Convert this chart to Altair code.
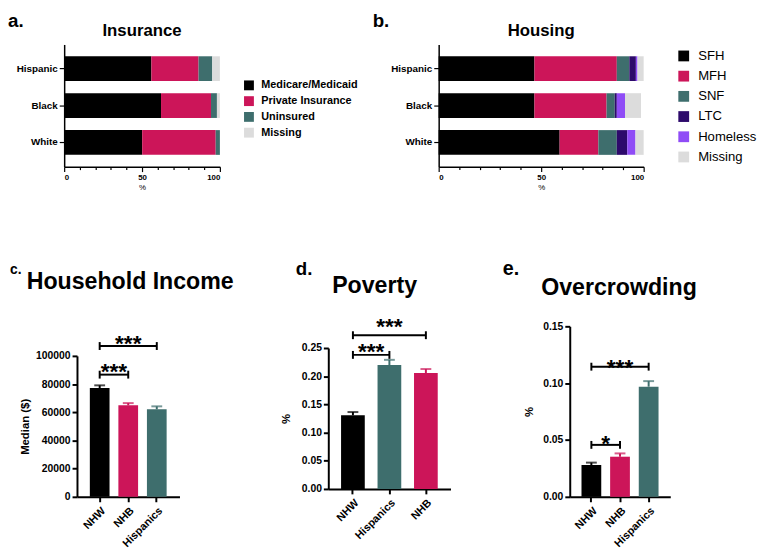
import altair as alt
import pandas as pd

FONT = "Liberation Sans"
BLACK = "#000000"
CRIMSON = "#cc1559"
TEAL = "#3e6e6d"
LTC_C = "#2d0a6b"
HOMELESS_C = "#8f4cf6"
MISSING_C = "#dcdcdc"

# ---------------- data ----------------
race_groups = ["Hispanic", "Black", "White"]

ins_cats = ["Medicare/Medicaid", "Private Insurance", "Uninsured", "Missing"]
ins_hispanic = [56.0, 30.3, 8.8, 4.9]
ins_black = [62.2, 32.1, 3.8, 1.9]
ins_white = [50.1, 47.2, 2.7, 0.0]

house_cats = ["SFH", "MFH", "SNF", "LTC", "Homeless", "Missing"]
house_hispanic = [46.7, 40.2, 6.1, 3.2, 0.8, 3.0]
house_black = [46.7, 35.2, 4.0, 1.0, 4.0, 7.8]
house_white = [59.0, 18.9, 9.0, 5.1, 4.0, 4.0]

income_groups = ["NHW", "NHB", "Hispanics"]
income_median = [77200, 64900, 62100]
income_err = [79100, 66500, 64200]
income_brackets = [("NHW", "NHB", 86700, "***", 92800), ("NHW", "Hispanics", 107000, "***", 112600)]

poverty_groups = ["NHW", "Hispanics", "NHB"]
poverty_pct = [0.1306, 0.2197, 0.2057]
poverty_err = [0.1364, 0.2290, 0.2127]
poverty_brackets = [("NHW", "Hispanics", 0.2378, "***", 0.254), ("NHW", "NHB", 0.2727, "***", 0.299)]

crowd_groups = ["NHW", "NHB", "Hispanics"]
crowd_pct = [0.0280, 0.0353, 0.0969]
crowd_err = [0.0301, 0.0382, 0.1018]
crowd_brackets = [("NHW", "NHB", 0.0457, "*", 0.052), ("NHW", "Hispanics", 0.1145, "***", 0.1185)]

group_colors = {"NHW": BLACK, "NHB": CRIMSON, "Hispanics": TEAL}


def text_layer(txt, x, y, size, weight="bold", align="center"):
    return alt.Chart(pd.DataFrame({"t": [txt]})).mark_text(
        font=FONT, fontSize=size, fontWeight=weight, align=align,
        baseline="alphabetic", color="black"
    ).encode(text="t:N", x=alt.value(x), y=alt.value(y))


def stacked_panel(rows, cats, colors, width, title, letter, letter_x,
                  legend_x, legend_y, leg_font, leg_weight, leg_sym, leg_rowpad, leg_offset):
    recs = []
    for g, vals in zip(race_groups, rows):
        for i, (c, v) in enumerate(zip(cats, vals)):
            recs.append({"group": g, "cat": c, "idx": i, "value": v})
    df = pd.DataFrame(recs)
    bars = alt.Chart(df).mark_bar().encode(
        x=alt.X("value:Q", stack="zero",
                scale=alt.Scale(domain=[0, 100], nice=False),
                axis=alt.Axis(values=list(range(0, 101, 10)),
                              labelExpr="datum.value % 50 === 0 ? datum.label : ''",
                              tickSize={"condition": {"test": "datum.value % 50 === 0", "value": 5}, "value": 3},
                              title="%", titleFont=FONT, titleFontSize=8, titleFontWeight="normal",
                              titlePadding=2, labelFont=FONT, labelFontSize=8, labelFontWeight="bold",
                              labelPadding=2, labelOverlap=False, grid=False, domainColor="black",
                              domainWidth=1.5, tickColor="black", tickWidth=1.2, labelColor="black",
                              titleColor="black")),
        y=alt.Y("group:N", sort=race_groups,
                scale=alt.Scale(domain=race_groups, paddingInner=0.33, paddingOuter=0.32),
                axis=alt.Axis(title=None, labelFont=FONT, labelFontSize=10, labelFontWeight="bold",
                              labelPadding=2, tickSize=5, tickWidth=1.2, tickColor="black",
                              domainColor="black", domainWidth=1.5, labelColor="black", grid=False)),
        color=alt.Color("cat:N", scale=alt.Scale(domain=cats, range=colors),
                        legend=alt.Legend(title=None, orient="none", legendX=legend_x, legendY=legend_y,
                                          symbolType="square", symbolSize=leg_sym, symbolStrokeWidth=0,
                                          labelFont=FONT, labelFontSize=leg_font, labelFontWeight=leg_weight,
                                          labelColor="black", rowPadding=leg_rowpad, labelOffset=leg_offset,
                                          padding=0)),
        order=alt.Order("idx:Q"),
    )
    return alt.layer(
        bars,
        text_layer(title, width / 2, -9, 17),
        text_layer(letter, letter_x, -18, 19, align="left"),
    ).properties(width=width, height=124)


def bar_panel(groups, vals, errs, brackets, width, height, yrange, ydomain, yvalues, yfmt,
              ytitle, ytitle_pad, pin, pout, title, title_x, title_y, letter, letter_x, letter_y, letter_size):
    colors = [group_colors[g] for g in groups]
    df = pd.DataFrame({"group": groups, "value": vals, "err": errs})
    xscale = alt.Scale(domain=groups, paddingInner=pin, paddingOuter=pout)
    xaxis = alt.Axis(title=None, labelAngle=-45, labelFont=FONT, labelFontSize=11,
                     labelFontWeight="bold", labelColor="black", tickSize=5, tickWidth=2,
                     tickColor="black", domainColor="black", domainWidth=2, labelPadding=3,
                     labelOverlap=False, grid=False)
    yscale = alt.Scale(domain=ydomain, range=yrange, nice=False, zero=True)
    yaxis = alt.Axis(values=yvalues, format=yfmt, title=ytitle, titleFont=FONT, titleFontSize=11.5,
                     titleFontWeight="bold", titleColor="black", titlePadding=ytitle_pad,
                     labelFont=FONT, labelFontSize=10.5, labelFontWeight="bold", labelColor="black",
                     labelOverlap=False, labelSeparation=0, labelBound=False, tickSize=5, tickWidth=2,
                     tickColor="black", domainColor="black", domainWidth=2, labelPadding=2, grid=False)
    cscale = alt.Scale(domain=groups, range=colors)

    def X(field):
        return alt.X(field, type="nominal", scale=xscale, axis=xaxis)

    def Y(field):
        return alt.Y(field, type="quantitative", scale=yscale, axis=yaxis)

    base = alt.Chart(df)
    bars = base.mark_bar().encode(
        x=X("group"), y=Y("value"),
        color=alt.Color("group:N", scale=cscale, legend=None))
    err_line = base.mark_rule(strokeWidth=2).encode(
        x=X("group"), y=Y("value"), y2="err:Q",
        color=alt.Color("group:N", scale=cscale, legend=None))
    err_cap = base.mark_tick(thickness=2, size=11).encode(
        x=X("group"), y=Y("err"),
        color=alt.Color("group:N", scale=cscale, legend=None))
    bdf = pd.DataFrame([{"g1": b[0], "g2": b[1], "y": b[2]} for b in brackets])
    hline = alt.Chart(bdf).mark_rule(strokeWidth=2, color="black").encode(
        x=X("g1"), x2="g2:N", y=Y("y"))
    cdf = pd.DataFrame([{"g": g, "y": b[2]} for b in brackets for g in (b[0], b[1])])
    caps = alt.Chart(cdf).mark_point(shape="M0,-1L0,1", size=64, filled=False, strokeWidth=2,
                                     color="black", opacity=1).encode(
        x=X("g"), y=Y("y"))
    step = width / (len(groups) - pin + 2 * pout)
    layers = [bars, err_line, err_cap, hline, caps]
    for b in brackets:
        i, j = groups.index(b[0]), groups.index(b[1])
        mid = groups[(i + j) // 2]
        dx = 0 if (i + j) % 2 == 0 else step / 2
        sdf = pd.DataFrame({"g": [mid], "y": [b[4]], "s": [b[3]]})
        layers.append(alt.Chart(sdf).mark_text(font=FONT, fontSize=23, fontWeight="bold", color="black",
                                               baseline="middle", dx=dx, dy=6.5).encode(
            x=X("g"), y=Y("y"), text="s:N"))
    layers.append(text_layer(title, title_x, title_y, 23.5))
    layers.append(text_layer(letter, letter_x, letter_y, letter_size, align="left"))
    return alt.layer(*layers).properties(width=width, height=height)


panel_a = stacked_panel([ins_hispanic, ins_black, ins_white], ins_cats,
                        [BLACK, CRIMSON, TEAL, MISSING_C], 158, "Insurance", "a.", -57,
                        182, 36, 11, "bold", 100, 4, 7)
panel_b = stacked_panel([house_hispanic, house_black, house_white], house_cats,
                        [BLACK, CRIMSON, TEAL, LTC_C, HOMELESS_C, MISSING_C], 208, "Housing", "b.", -67,
                        242, 5, 13.3, "normal", 120, 6.5, 8)

panel_c = bar_panel(income_groups, income_median, income_err, income_brackets, 104, 188, [188, 45],
                    [0, 100000], [0, 20000, 40000, 60000, 80000, 100000], "d", "Median ($)", 5,
                    0.31, 0.45, "Household Income", 54, -23, "c.", -68, -38, 14)
panel_d = bar_panel(poverty_groups, poverty_pct, poverty_err, poverty_brackets, 124, 180, [180, 37],
                    [0, 0.25], [0, 0.05, 0.10, 0.15, 0.20, 0.25], ".2f", "%", 10,
                    0.35, 0.35, "Poverty", 47, -19, "d.", -33, -37, 19)
panel_e = bar_panel(crowd_groups, crowd_pct, crowd_err, crowd_brackets, 102, 188, [188, 15],
                    [0, 0.15], [0, 0.05, 0.10, 0.15], ".2f", "%", 8,
                    0.31, 0.41, "Overcrowding", 50, -17, "e.", -68, -37, 20)

spacer = alt.Chart(pd.DataFrame({"v": [0]})).mark_point(opacity=0).encode(
    x=alt.value(0), y=alt.value(0)).properties(width=1, height=1)

top = alt.hconcat(panel_a, panel_b, spacing=222, bounds="flush").resolve_scale(
    color="independent", x="independent", y="independent")
de = alt.hconcat(panel_d, panel_e, spacing=121, bounds="flush").resolve_scale(
    color="independent", x="independent", y="independent")
cde = alt.hconcat(panel_c, de, spacing=151, bounds="flush").resolve_scale(
    color="independent", x="independent", y="independent")
bottom = alt.hconcat(spacer, cde, spacing=12, bounds="flush").resolve_scale(
    color="independent", x="independent", y="independent")

# nested row groups have no height of their own under flush bounds, so the
# spacing is measured from the top of the first row
chart = alt.vconcat(top, bottom, spacing=271, bounds="flush").resolve_scale(
    color="independent", x="independent", y="independent"
).properties(padding=0, background="white").configure_view(stroke=None)

chart.save("out.html", embed_options={"renderer": "svg", "actions": False})
